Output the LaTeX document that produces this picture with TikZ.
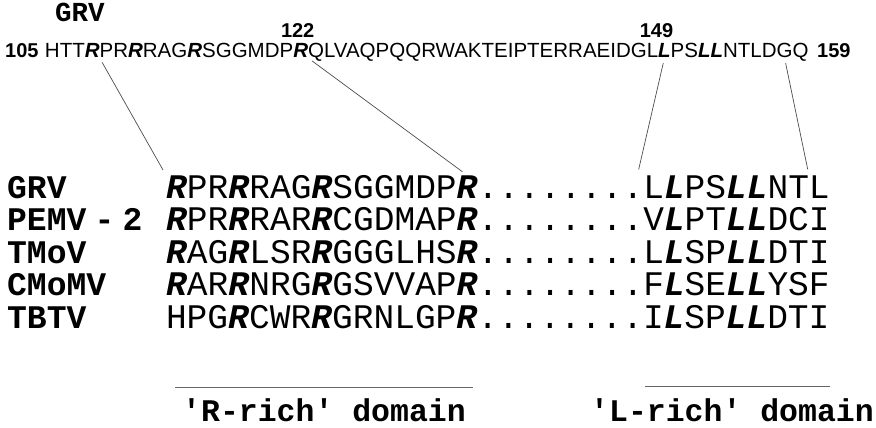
\documentclass[tikz,border=0pt]{standalone}
\usepackage{fontspec}
\usetikzlibrary{positioning}
\newfontfamily\monofam[Ligatures=TeXOff]{Liberation Mono}
\newfontfamily\sansfam{Liberation Sans}
\newcommand{\bR}{\textbf{\textit{R}}}
\newcommand{\bL}{\textbf{\textit{L}}}
\tikzset{
  seq/.style={font=\monofam\fontsize{34.5}{40}\selectfont, inner sep=0pt, outer sep=0pt, anchor=base west},
  virus/.style={font=\monofam\bfseries\fontsize{33}{40}\selectfont, inner sep=0pt, anchor=base west},
  aa/.style={font=\sansfam\fontsize{20.5}{24}\selectfont, inner sep=0pt, outer sep=0pt, anchor=base west},
  num/.style={font=\sansfam\bfseries\fontsize{20}{24}\selectfont, inner sep=0pt},
  domlabel/.style={font=\monofam\bfseries\fontsize{31.5}{40}\selectfont, inner sep=0pt, anchor=base west},
  link/.style={black!70, line width=0.7pt, shorten <=5pt, shorten >=6pt},
  rule/.style={black!60, line width=1pt}
}
\begin{document}
\begin{tikzpicture}[x=1pt, y=-1pt]
\useasboundingbox (0,0) rectangle (876,428);
% GRV sequence 105-159
\node[virus, font=\monofam\bfseries\fontsize{27.5}{30}\selectfont] (top) at (55,22) {GRV};
\node[num, anchor=base west] (n105) at (5,58) {105};
\node[aa] (t0) at (45,58) {HTT};
\node[aa] (t1) at (t0.base east) {\bR};
\node[aa] (t2) at (t1.base east) {PR};
\node[aa] (t3) at (t2.base east) {\bR};
\node[aa] (t4) at (t3.base east) {RAG};
\node[aa] (t5) at (t4.base east) {\bR};
\node[aa] (t6) at (t5.base east) {SGGMDP};
\node[aa] (t7) at (t6.base east) {\bR};
\node[aa] (t8) at (t7.base east) {QLVAQPQQRWAKTEIPTERRAEIDGL};
\node[aa] (t9) at (t8.base east) {\bL};
\node[aa] (t10) at (t9.base east) {PS};
\node[aa] (t11) at (t10.base east) {\bL\bL};
\node[aa] (t12) at (t11.base east) {NTLD};
\node[aa] (t13) at (t12.base east) {G};
\node[aa] (t14) at (t13.base east) {Q};
\node[num, anchor=base west] (n159) at (817,58) {159};
\node[num, above=6pt of t7, xshift=-3pt] (n122) {122};
\node[num, above=6pt of t9, xshift=-8pt] (n149) {149};
%
% aligned sequences
\node[virus] (v0) at (7,198) {GRV};
\node[virus] (v1) at (7,230.5) {PEMV\hspace{0.25em}-\hspace{0.25em}2};
\node[virus] (v2) at (7,263) {TMoV};
\node[virus] (v3) at (7,295.5) {CMoMV};
\node[virus] (v4) at (7,328) {TBTV};
%
\node[seq] (g0) at (166,198) {\bR};
\node[seq] (g1) at (g0.base east) {PR};
\node[seq] (g2) at (g1.base east) {\bR};
\node[seq] (g3) at (g2.base east) {RAG};
\node[seq] (g4) at (g3.base east) {\bR};
\node[seq] (g5) at (g4.base east) {SGGMDP};
\node[seq] (g6) at (g5.base east) {\bR};
\node[seq] (g7) at (g6.base east) {........};
\node[seq] (g8) at (g7.base east) {L};
\node[seq] (g9) at (g8.base east) {\bL};
\node[seq] (g10) at (g9.base east) {PS};
\node[seq] (g11) at (g10.base east) {\bL\bL};
\node[seq] (g12) at (g11.base east) {NT};
\node[seq] (g13) at (g12.base east) {L};
%
\node[seq] (s1) at (166,230.5) {\bR PR\bR RAR\bR CGDMAP\bR ........V\bL PT\bL\bL DCI};
\node[seq] (s2) at (166,263) {\bR AG\bR LSR\bR GGGLHS\bR ........L\bL SP\bL\bL DTI};
\node[seq] (s3) at (166,295.5) {\bR AR\bR NRG\bR GSVVAP\bR ........F\bL SE\bL\bL YSF};
\node[seq] (s4) at (166,328) {HPG\bR CWR\bR GRNLGP\bR ........I\bL SP\bL\bL DTI};
%
\draw[link] (t1.south east) -- (g0.north west);
\draw[link] (t7.south east) -- (g6.north);
\draw[link] (t9.south) -- ([xshift=-6pt]g8.north west);
\draw[link] (t13.south) -- (g13.north west);
%
% domains
\coordinate (r0) at (175,387);
\coordinate (r1) at (473,387);
\coordinate (l0) at (645,386);
\coordinate (l1) at (830,386);
\draw[rule] (r0) -- (r1);
\draw[rule] (l0) -- (l1);
\node[domlabel] (rdom) at (182,421) {'R-rich' domain};
\node[domlabel] (ldom) at (590,421) {'L-rich' domain};
\end{tikzpicture}
\end{document}
